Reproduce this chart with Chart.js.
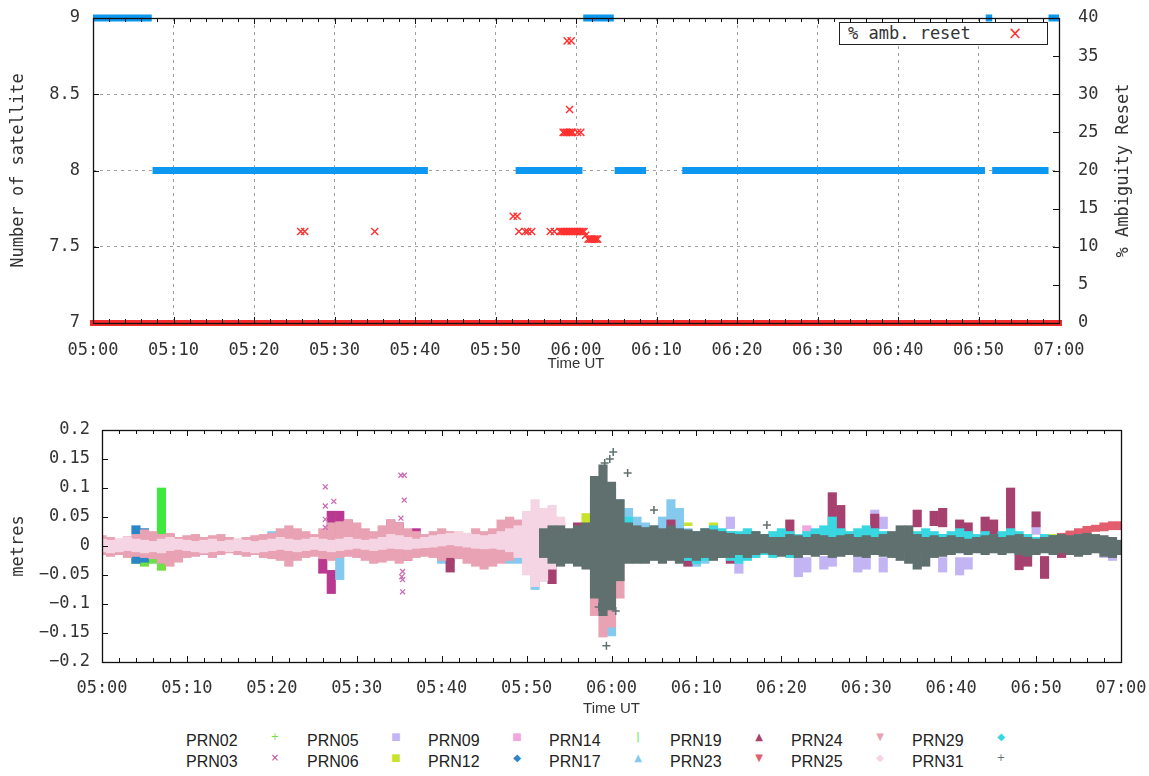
<!DOCTYPE html>
<html><head><meta charset="utf-8">
<script src="https://cdn.jsdelivr.net/npm/chart.js@4.4.1/dist/chart.umd.min.js"></script>
<style>
html,body{margin:0;padding:0;background:#fff;}
#wrap{position:relative;width:1149px;height:776px;overflow:hidden;background:#fff;}
#wrap canvas{position:absolute;left:0;}
#c1{top:0;}
#c2{top:400px;}
.keybox{position:absolute;left:839px;top:22px;width:209px;height:23px;border:1px solid #222;box-sizing:border-box;background:#fff;}
.keytxt{position:absolute;left:8px;top:0;line-height:21px;font:17px "DejaVu Sans Mono",monospace;color:#333;white-space:pre;}
.keysym{position:absolute;left:168px;top:0;line-height:21px;font:17px "DejaVu Sans",sans-serif;color:#ff3535;}
.klab{position:absolute;font:16px "Liberation Sans",Arial,sans-serif;line-height:20px;height:20px;color:#222;white-space:nowrap;}
.ksym{position:absolute;width:12px;text-align:center;line-height:20px;height:20px;font:10px "DejaVu Sans",sans-serif;}
</style></head>
<body><div id="wrap">
<canvas id="c1" width="1149" height="380"></canvas>
<canvas id="c2" width="1149" height="320"></canvas>
<div class="keybox" id="key1"></div>
<div id="key2"></div>
</div>
<script>
// ---------- top panel data (x = minutes after 05:00) ----------
const satStart = [0, 7.4, 52.5, 60.9, 64.8, 73.2, 110.9, 111.7, 118.7];
const satEnd   = [7.3, 41.6, 60.8, 64.7, 68.7, 110.8, 111.7, 118.7, 120];
const satCount = [9, 8, 8, 9, 8, 8, 9, 8, 9];

const resetBaseTime = [0, 120];
const resetBasePct  = [0, 0];
const resetTime = [25.8, 26.3, 35.0, 52.2, 52.7, 52.9, 53.7, 54.0, 54.5,
  56.8, 57.3, 58.0, 58.2, 58.4, 58.6, 58.8, 59.0, 59.2, 59.4, 59.6, 59.8, 60.0, 60.2, 60.4, 60.6, 60.8, 61.0,
  61.2, 61.5, 61.7, 61.9, 62.1, 62.3, 62.5, 62.7,
  58.4, 58.6, 58.8, 59.0, 59.2, 59.4, 59.6, 60.2, 60.6,
  59.2, 58.9, 59.4];
const resetPct  = [12, 12, 12, 14, 14, 12, 12, 12, 12,
  12, 12, 12, 12, 12, 12, 12, 12, 12, 12, 12, 12, 12, 12, 12, 12, 12, 12,
  11.5, 11, 11, 11, 11, 11, 11, 11,
  25, 25, 25, 25, 25, 25, 25, 25, 25,
  28, 37, 37];

// ---------- bottom panel data: [minute, low, high] residual ranges (m) ----------
const prn02 = [[1,0.005,0.012],[2,-0.012,-0.005],[4,-0.03,-0.01],[5,-0.035,-0.015],[6,-0.03,-0.01],[7,-0.042,-0.01]];
const prn03 = [[26,-0.047,-0.021],[27,-0.082,-0.042],[27,0.02,0.06],[28,0.02,0.06],[29,0.02,0.045],[30,0.01,0.02],[34,0.01,0.045],[35,-0.02,0.04],[36,-0.025,0.01],[37,0.015,0.03]];
const prn03Marks = [[26.3,0.102],[26.3,0.069],[26.3,0.046],[26.3,0.032],[27.3,0.077],[35.2,0.122],[35.6,0.122],[35.6,0.079],[35.2,0.048],[35.4,-0.044],[35.3,-0.053],[35.4,-0.058],[35.4,-0.079]];
const prn05 = [[74,0.03,0.05],[75,-0.047,-0.03],[80,0.0,0.01],[82,-0.053,-0.018],[83,-0.045,-0.02],[85,-0.04,-0.018],[86,-0.035,-0.015],[89,-0.045,-0.018],[90,-0.04,-0.02],[91,0.033,0.062],[92,-0.045,-0.02],[92,0.03,0.05],[95,0.01,0.02],[99,-0.045,-0.02],[101,-0.05,-0.02],[102,-0.04,-0.02],[105,-0.005,0.01],[110,0.02,0.035],[115,0.005,0.015],[118,-0.02,0.0],[119,-0.025,0.0]];
const prn06 = [[16,-0.013,-0.007],[42,0.018,0.024],[57,0.04,0.056],[58,0.04,0.05],[57,-0.03,-0.02],[69,0.035,0.04],[72,0.035,0.04],[76,0.01,0.02],[108,0.015,0.02],[112,0.01,0.02]];
const prn09 = [[83,0.025,0.035],[118,0.005,0.015]];
const prn12 = [[4,0.02,0.035],[5,0.018,0.03],[4,-0.03,-0.016],[5,-0.028,-0.015],[11,-0.012,-0.006],[17,0.006,0.015],[18,0.006,0.014],[31,0.005,0.012],[32,0.004,0.01],[38,-0.015,-0.005],[39,-0.014,-0.006],[54,0.03,0.04],[66,0.02,0.03],[99,0.01,0.02],[112,0.01,0.018]];
const prn14 = [[7,-0.03,0.1]];
const prn17 = [[3,0.0,0.015],[4,0.002,0.012],[13,0.005,0.012],[20,0.005,0.025],[21,0.008,0.02],[23,0.005,0.02],[24,0.002,0.015],[28,-0.058,-0.01],[36,0.005,0.025],[37,0.005,0.02],[40,-0.03,-0.015],[41,-0.028,-0.015],[48,-0.03,-0.02],[49,-0.03,-0.018],[50,-0.02,0.015],[51,-0.075,-0.04],[52,-0.06,0.03],[56,-0.02,0.02],[58,0.05,0.09],[59,0.04,0.11],[60,-0.03,0.1],[60,-0.155,-0.13],[61,0.03,0.08],[62,0.03,0.065],[63,0.01,0.05],[64,0.0,0.04],[65,0.0,0.035],[66,0.02,0.05],[67,0.03,0.08],[68,0.01,0.065],[69,-0.02,0.03],[70,-0.035,-0.01],[71,-0.03,-0.01],[74,0.01,0.025],[80,0.005,0.02],[88,0.01,0.02],[100,0.005,0.015]];
const prn19 = [[8,0.01,0.02],[11,0.01,0.018],[19,-0.015,-0.008],[36,-0.02,-0.01],[41,-0.045,-0.012],[42,-0.02,0.0],[51,0.04,0.06],[52,-0.06,-0.04],[53,-0.065,-0.035],[56,0.022,0.04],[57,0.02,0.03],[67,0.01,0.045],[69,-0.035,-0.02],[74,-0.03,-0.015],[81,0.01,0.045],[86,0.014,0.092],[87,0.02,0.07],[91,0.03,0.055],[96,0.033,0.062],[98,0.035,0.06],[99,0.033,0.065],[101,0.016,0.045],[102,0.02,0.04],[104,0.022,0.05],[105,0.02,0.045],[107,0.005,0.1],[108,-0.041,-0.013],[109,-0.035,-0.015],[110,0.033,0.059],[111,-0.056,-0.018],[113,-0.02,-0.01]];
const prn23 = [[113,0.012,0.022],[114,0.014,0.026],[115,0.018,0.03],[116,0.02,0.034],[117,0.025,0.036],[118,0.026,0.04],[119,0.028,0.042],[120,0.028,0.042]];
const prn24 = [[0,-0.015,0.018],[1,-0.018,0.015],[2,-0.015,0.012],[3,-0.02,0.016],[4,-0.018,0.02],[5,-0.02,0.028],[6,-0.022,0.025],[7,-0.03,0.02],[8,-0.035,0.022],[9,-0.028,0.015],[10,-0.02,0.018],[11,-0.018,0.02],[12,-0.015,0.015],[13,-0.02,0.018],[14,-0.015,0.02],[15,-0.012,0.015],[16,-0.015,0.012],[17,-0.018,0.015],[18,-0.015,0.018],[19,-0.02,0.02],[20,-0.022,0.022],[21,-0.025,0.03],[22,-0.035,0.035],[23,-0.025,0.03],[24,-0.02,0.025],[25,-0.018,0.02],[26,-0.022,0.03],[27,-0.025,0.04],[28,-0.02,0.042],[29,-0.018,0.045],[30,-0.02,0.04],[31,-0.025,0.03],[32,-0.03,0.025],[33,-0.028,0.035],[34,-0.025,0.045],[35,-0.03,0.04],[36,-0.025,0.03],[37,-0.02,0.025],[38,-0.018,0.02],[39,-0.02,0.025],[40,-0.025,0.03],[41,-0.02,0.025],[42,-0.022,0.02],[43,-0.03,0.022],[44,-0.035,0.03],[45,-0.04,0.025],[46,-0.035,0.03],[47,-0.03,0.045],[48,-0.025,0.05],[49,-0.02,0.045],[50,-0.02,0.03],[51,-0.015,0.02],[52,-0.01,0.015],[53,-0.01,0.01],[58,-0.12,-0.03],[59,-0.157,-0.04],[60,-0.14,-0.03],[61,-0.09,-0.03]];
const prn25 = [[0,-0.01,0.012],[1,-0.012,0.01],[2,-0.01,0.012],[3,-0.008,0.015],[4,-0.01,0.012],[5,-0.012,0.01],[6,-0.01,0.008],[7,-0.012,0.012],[8,-0.008,0.015],[9,-0.006,0.012],[10,-0.008,0.01],[11,-0.01,0.008],[12,-0.012,0.01],[13,-0.01,0.012],[14,-0.008,0.008],[15,-0.01,0.01],[16,-0.008,0.012],[17,-0.01,0.01],[18,-0.012,0.008],[19,-0.01,0.01],[20,-0.008,0.012],[21,-0.006,0.015],[22,-0.008,0.012],[23,-0.01,0.01],[24,-0.008,0.012],[25,-0.006,0.015],[26,-0.008,0.012],[27,-0.01,0.01],[28,-0.008,0.012],[29,-0.006,0.015],[30,-0.004,0.012],[31,-0.006,0.01],[32,-0.008,0.012],[33,-0.006,0.015],[34,-0.004,0.02],[35,-0.005,0.018],[36,-0.006,0.015],[37,-0.004,0.012],[38,-0.003,0.015],[39,-0.002,0.018],[40,0.0,0.02],[41,0.002,0.022],[42,0.0,0.025],[43,-0.002,0.022],[44,-0.004,0.02],[45,-0.005,0.018],[46,-0.004,0.02],[47,-0.006,0.025],[48,-0.01,0.03],[49,-0.02,0.035],[50,-0.05,0.06],[51,-0.07,0.08],[52,-0.06,0.065],[53,-0.04,0.07],[54,-0.03,0.05],[55,-0.02,0.03],[58,-0.05,0.03],[59,-0.07,0.02]];
const prn29 = [[61,0.0,0.065],[62,0.01,0.05],[63,-0.01,0.02],[64,-0.015,0.025],[65,-0.02,0.02],[66,-0.015,0.015],[67,-0.02,0.02],[68,-0.02,0.025],[69,-0.025,0.02],[70,-0.03,0.025],[71,-0.025,0.03],[72,-0.02,0.035],[73,-0.02,0.03],[74,-0.025,0.025],[75,-0.03,0.025],[76,-0.025,0.03],[77,-0.02,0.025],[78,-0.015,0.02],[79,-0.02,0.025],[80,-0.015,0.03],[81,-0.02,0.025],[82,-0.015,0.02],[83,-0.015,0.025],[84,-0.01,0.03],[85,-0.01,0.035],[86,-0.01,0.05],[87,-0.015,0.03],[88,-0.01,0.025],[89,-0.01,0.03],[90,-0.015,0.035],[91,-0.01,0.03],[92,-0.015,0.025],[93,-0.015,0.02],[94,-0.01,0.025],[95,-0.01,0.02],[96,-0.01,0.025],[97,-0.01,0.03],[98,-0.015,0.025],[99,-0.01,0.02],[100,-0.01,0.025],[101,-0.005,0.03],[102,-0.01,0.025],[103,-0.01,0.02],[104,-0.005,0.025],[105,-0.01,0.02],[106,-0.01,0.025],[107,-0.01,0.03],[108,-0.015,0.025],[109,-0.01,0.02],[110,-0.01,0.015],[111,-0.01,0.02],[112,-0.01,0.015],[113,-0.008,0.012],[114,-0.01,0.015],[115,-0.01,0.02],[116,-0.01,0.015],[117,-0.008,0.012],[118,-0.01,0.01],[119,-0.01,0.01]];
const prn31 = [[52,-0.02,0.03],[53,-0.03,0.035],[54,-0.035,0.035],[55,-0.03,0.03],[56,-0.035,0.035],[57,-0.04,0.04],[58,-0.09,0.12],[59,-0.12,0.14],[60,-0.11,0.11],[61,-0.06,0.08],[62,-0.03,0.04],[63,-0.03,0.035],[64,-0.03,0.032],[65,-0.025,0.035],[66,-0.03,0.03],[67,-0.025,0.035],[68,-0.03,0.03],[69,-0.02,0.028],[70,-0.025,0.025],[71,-0.02,0.03],[72,-0.025,0.028],[73,-0.02,0.025],[74,-0.02,0.022],[75,-0.015,0.02],[76,-0.02,0.02],[77,-0.015,0.025],[78,-0.012,0.02],[79,-0.015,0.015],[80,-0.018,0.015],[81,-0.015,0.02],[82,-0.02,0.018],[83,-0.015,0.015],[84,-0.018,0.02],[85,-0.015,0.018],[86,-0.02,0.015],[87,-0.018,0.018],[88,-0.015,0.02],[89,-0.018,0.015],[90,-0.02,0.018],[91,-0.015,0.015],[92,-0.018,0.02],[93,-0.02,0.025],[94,-0.025,0.035],[95,-0.03,0.035],[96,-0.04,0.02],[97,-0.035,0.015],[98,-0.02,0.018],[99,-0.018,0.015],[100,-0.015,0.018],[101,-0.012,0.015],[102,-0.015,0.012],[103,-0.012,0.015],[104,-0.015,0.018],[105,-0.012,0.02],[106,-0.015,0.015],[107,-0.012,0.018],[108,-0.015,0.02],[109,-0.018,0.015],[110,-0.015,0.012],[111,-0.012,0.015],[112,-0.015,0.018],[113,-0.012,0.02],[114,-0.015,0.018],[115,-0.018,0.02],[116,-0.015,0.022],[117,-0.012,0.02],[118,-0.018,0.018],[119,-0.02,0.015],[120,-0.015,0.01]];
const prn31Marks = [[60.2,0.162],[59.2,0.143],[59.8,0.15],[61.9,0.126],[59.4,-0.172],[58.5,-0.105],[60.5,-0.112],[65.0,0.062],[78.3,0.036]];

const prnNames   = ['PRN02','PRN03','PRN05','PRN06','PRN09','PRN12','PRN14','PRN17','PRN19','PRN23','PRN24','PRN25','PRN29','PRN31'];
const prnSeries  = [prn02, prn03, prn05, prn06, prn09, prn12, prn14, prn17, prn19, prn23, prn24, prn25, prn29, prn31];
const prnColors  = ['#6fdf45','#b8398f','#c3b4f4','#c9e22c','#f2a6e0','#2a86c6','#3ee83e','#86c9ef','#a6416f','#e25d6e','#e8a2b3','#f5d4e3','#38d7e1','#5f706f'];
const prnSymbols = ['+','×','■','■','■','◆','|','▲','▲','▼','▼','◆','◆','+'];

// ---------- helpers ----------
function hhmm(v) {
  const t = 300 + Math.round(v);
  return String(Math.floor(t / 60)).padStart(2, '0') + ':' + String(t % 60).padStart(2, '0');
}
function num(v) {
  const r = Math.round(v * 100) / 100;
  return r === 0 ? '0' : (r < 0 ? '−' + String(-r) : String(r));
}
function fixW(w) { return s => { s.width = w; s.paddingTop = 0; s.paddingBottom = 0; }; }
function fixH(h) { return s => { s.height = h; s.paddingLeft = 0; s.paddingRight = 0; }; }
const MONO = '"DejaVu Sans Mono", monospace';
const SANS = '"Liberation Sans", Arial, sans-serif';
const TXT = '#333';

const frame = {
  id: 'frame',
  afterDatasetsDraw(chart, args, o) {
    const { ctx, chartArea: a } = chart;
    const xs = chart.scales.x;
    ctx.save();
    ctx.strokeStyle = '#111';
    ctx.lineWidth = 1;
    ctx.beginPath();
    for (let m = 0; m <= 120; m += 2) {
      const px = Math.round(xs.getPixelForValue(m)) + 0.5;
      const len = m % 10 === 0 ? 6 : 4;
      ctx.moveTo(px, a.bottom); ctx.lineTo(px, a.bottom - len);
      ctx.moveTo(px, a.top); ctx.lineTo(px, a.top + len);
    }
    (o.yAxes || []).forEach(ax => {
      const s = chart.scales[ax.id];
      for (let v = s.min; v <= s.max + 1e-9; v += ax.step) {
        const py = Math.round(s.getPixelForValue(v)) + 0.5;
        if (ax.side === 'left') { ctx.moveTo(a.left, py); ctx.lineTo(a.left + 6, py); }
        else { ctx.moveTo(a.right, py); ctx.lineTo(a.right - 6, py); }
      }
    });
    ctx.stroke();
    ctx.lineWidth = 1.3;
    ctx.strokeRect(Math.round(a.left) + 0.5, Math.round(a.top) + 0.5, Math.round(a.right - a.left), Math.round(a.bottom - a.top));
    if (o.rightTitle) {
      ctx.translate(o.rightTitleX, (a.top + a.bottom) / 2);
      ctx.rotate(-Math.PI / 2);
      ctx.font = '17px ' + MONO;
      ctx.fillStyle = TXT;
      ctx.textAlign = 'center';
      ctx.textBaseline = 'middle';
      ctx.fillText(o.rightTitle, 0, 0);
    }
    ctx.restore();
  }
};

// ---------- top chart ----------
const satData = [];
satStart.forEach((s, i) => {
  satData.push({ x: s, y: satCount[i] }, { x: satEnd[i], y: satCount[i] }, { x: satEnd[i], y: null });
});
const resetBase = resetBaseTime.map((t, i) => ({ x: t, y: resetBasePct[i] }));
const resetMarks = resetTime.map((t, i) => ({ x: t, y: resetPct[i] }));

const chart1 = new Chart(document.getElementById('c1'), {
  type: 'line',
  data: {
    datasets: [
      { label: 'Number of satellite', data: satData, yAxisID: 'y', borderColor: '#0c97f1', borderWidth: 7,
        pointRadius: 0, spanGaps: false, clip: false, borderCapStyle: 'butt', order: 2 },
      { label: '% amb. reset', data: resetBase, yAxisID: 'y2', borderColor: '#f52a2a', borderWidth: 6,
        pointRadius: 0, clip: false, borderCapStyle: 'square', order: 1 },
      { label: '% amb. reset', data: resetMarks, yAxisID: 'y2', showLine: false, pointStyle: 'crossRot',
        pointRadius: 5, pointBorderWidth: 1.4, borderColor: '#ff3030', backgroundColor: '#ff3030', order: 0 }
    ]
  },
  options: {
    responsive: false, animation: false, devicePixelRatio: 1,
    layout: { autoPadding: false, padding: { top: 18, left: 0, right: 0, bottom: 7 } },
    plugins: { legend: { display: false }, tooltip: { enabled: false },
      frame: { yAxes: [{ id: 'y', side: 'left', step: 0.5 }, { id: 'y2', side: 'right', step: 5 }],
               rightTitle: '% Ambiguity Reset', rightTitleX: 1124 } },
    scales: {
      x: { type: 'linear', min: 0, max: 120,
        ticks: { stepSize: 10, callback: v => hhmm(v), font: { family: MONO, size: 17 }, color: TXT, padding: 17, maxRotation: 0, autoSkip: false },
        grid: { color: '#a0a0a0', drawTicks: false, lineWidth: 1 },
        border: { display: false, dash: [3, 4] },
        title: { display: true, text: 'Time UT', font: { family: SANS, size: 15 }, color: TXT, padding: { top: 0, bottom: 0 } },
        afterFit: fixH(50) },
      y: { position: 'left', min: 7, max: 9,
        ticks: { stepSize: 0.5, callback: v => num(v), font: { family: MONO, size: 17 }, color: TXT, padding: 13 },
        grid: { color: '#a0a0a0', drawTicks: false },
        border: { display: false, dash: [3, 4] },
        title: { display: true, text: 'Number of satellite', font: { family: MONO, size: 17 }, color: TXT, padding: { top: 8, bottom: 0 } },
        afterFit: fixW(93) },
      y2: { position: 'right', min: 0, max: 40,
        ticks: { stepSize: 5, font: { family: MONO, size: 17 }, color: TXT, padding: 19 },
        grid: { display: false, drawTicks: false },
        border: { display: false },
        afterFit: fixW(90) }
    }
  },
  plugins: [frame]
});

// top legend box
(function () {
  const ds = chart1.data.datasets[2];
  const box = document.getElementById('key1');
  const t = document.createElement('div'); t.className = 'keytxt'; t.textContent = ds.label; box.appendChild(t);
  const s = document.createElement('div'); s.className = 'keysym'; s.textContent = '×'; s.style.color = ds.borderColor; box.appendChild(s);
})();

// ---------- bottom chart ----------
const datasets2 = prnNames.map((name, i) => ({
  type: 'bar', label: name,
  data: prnSeries[i].map(r => ({ x: r[0], y: [r[1], r[2]] })),
  backgroundColor: prnColors[i], borderWidth: 0, grouped: false,
  barPercentage: 1, categoryPercentage: 1, order: 100 - i
}));
datasets2.push({ type: 'scatter', label: 'PRN03', data: prn03Marks.map(r => ({ x: r[0], y: r[1] })),
  pointStyle: 'crossRot', pointRadius: 3.5, pointBorderWidth: 1.3, borderColor: '#cf6cb3', backgroundColor: '#cf6cb3', order: 1 });
datasets2.push({ type: 'scatter', label: 'PRN31', data: prn31Marks.map(r => ({ x: r[0], y: r[1] })),
  pointStyle: 'cross', pointRadius: 4, pointBorderWidth: 1.5, borderColor: '#5f706f', backgroundColor: '#5f706f', order: 0 });

const chart2 = new Chart(document.getElementById('c2'), {
  type: 'bar',
  data: { datasets: datasets2 },
  options: {
    responsive: false, animation: false, devicePixelRatio: 1,
    layout: { autoPadding: false, padding: { top: 30, left: 0, right: 28, bottom: 2 } },
    plugins: { legend: { display: false }, tooltip: { enabled: false },
      frame: { yAxes: [{ id: 'y', side: 'left', step: 0.05 }] } },
    scales: {
      x: { type: 'linear', min: 0, max: 120, offset: false,
        ticks: { stepSize: 10, callback: v => hhmm(v), font: { family: MONO, size: 17 }, color: TXT, padding: 16, maxRotation: 0, autoSkip: false },
        grid: { display: false, drawTicks: false }, border: { display: false },
        title: { display: true, text: 'Time UT', font: { family: SANS, size: 15 }, color: TXT, padding: { top: 0, bottom: 0 } },
        afterFit: fixH(56) },
      y: { min: -0.2, max: 0.2,
        ticks: { stepSize: 0.05, font: { family: MONO, size: 17 }, color: TXT, padding: 12, callback: v => num(v) },
        grid: { display: false, drawTicks: false }, border: { display: false },
        title: { display: true, text: 'metres', font: { family: MONO, size: 17 }, color: TXT, padding: { top: 8, bottom: 0 } },
        afterFit: fixW(102) }
    }
  },
  plugins: [frame]
});

// bottom legend (gnuplot style: label then sample, filled column by column)
(function () {
  const key = document.getElementById('key2');
  prnNames.forEach((name, k) => {
    const col = Math.floor(k / 2), row = k % 2;
    const x0 = 186 + col * 121, y0 = 731 + row * 21;
    const lab = document.createElement('div');
    lab.className = 'klab'; lab.style.left = x0 + 'px'; lab.style.top = y0 + 'px';
    lab.textContent = chart2.data.datasets[k].label;
    key.appendChild(lab);
    const sym = document.createElement('div');
    sym.className = 'ksym'; sym.style.left = (x0 + 83) + 'px'; sym.style.top = y0 + 'px';
    sym.style.color = chart2.data.datasets[k].backgroundColor;
    sym.textContent = prnSymbols[k];
    key.appendChild(sym);
  });
})();
</script>
</body></html>
